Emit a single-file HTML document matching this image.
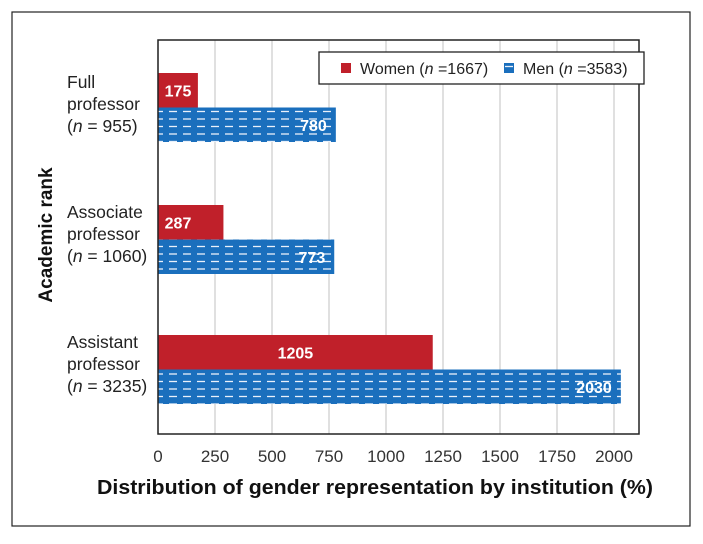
<!DOCTYPE html>
<html><head><meta charset="utf-8"><style>
body{margin:0;background:#fff;font-family:"Liberation Sans",sans-serif}
svg text{font-family:"Liberation Sans",sans-serif}
</style></head><body>
<svg width="703" height="539" xmlns="http://www.w3.org/2000/svg">
<defs>
<pattern id="dash" width="14" height="7.5" patternUnits="userSpaceOnUse" y="108">
<rect width="14" height="7.5" fill="#1a6fbd"/>
<line x1="1" y1="3.5" x2="9" y2="3.5" stroke="#e8f0fa" stroke-width="1.3"/>
</pattern>
</defs>
<rect x="12" y="12" width="678" height="514" fill="none" stroke="#222" stroke-width="1.2"/>
<g id="grid"></g>
<g id="bars"></g>
<rect x="158" y="40" width="481" height="394" fill="none" stroke="#222" stroke-width="1.5"/>
<g>
<rect x="319" y="52" width="325" height="32" fill="#fff" stroke="#222" stroke-width="1.3"/>
<rect x="341" y="63" width="10" height="10" fill="#c0202a"/>
<text x="360" y="74" font-size="16" fill="#222">Women (<tspan font-style="italic">n</tspan> =1667)</text>
<rect x="504" y="63" width="10" height="10" fill="url(#dash)"/>
<text x="523" y="74" font-size="16" fill="#222">Men (<tspan font-style="italic">n</tspan> =3583)</text>
</g>
<g id="xt"></g>
<text x="97" y="494" font-size="20" font-weight="bold" fill="#111" textLength="556" lengthAdjust="spacingAndGlyphs">Distribution of gender representation by institution (%)</text>
<text transform="translate(52,235) rotate(-90)" font-size="19" font-weight="bold" text-anchor="middle" fill="#111">Academic rank</text>
<g font-size="17.5" fill="#222">
<text x="67" y="88">Full</text>
<text x="67" y="110">professor</text>
<text x="67" y="132">(<tspan font-style="italic">n</tspan> = 955)</text>
<text x="67" y="218">Associate</text>
<text x="67" y="240">professor</text>
<text x="67" y="262">(<tspan font-style="italic">n</tspan> = 1060)</text>
<text x="67" y="348">Assistant</text>
<text x="67" y="370">professor</text>
<text x="67" y="392">(<tspan font-style="italic">n</tspan> = 3235)</text>
</g>
</svg>
<script>
const categories=["Full professor","Associate professor","Assistant professor"];
const women=[175,287,1205];
const men=[780,773,2030];
const ticks=[0,250,500,750,1000,1250,1500,1750,2000];
const NS="http://www.w3.org/2000/svg";
const x0=158,scale=57/250;
const xs=v=>x0+v*scale;
const groupTop=[73,205,335];
const bh=34.5;
function mk(t,a,p){const e=document.createElementNS(NS,t);for(const k in a)e.setAttribute(k,a[k]);p.appendChild(e);return e;}
const g=document.getElementById('grid'),xt=document.getElementById('xt'),b=document.getElementById('bars');
ticks.forEach(t=>{
 const l=mk('line',{x1:xs(t),x2:xs(t),y1:40,y2:434,stroke:'#ccc','stroke-width':1.2},g);
 
 
 const tx=mk('text',{x:xs(t),y:462,'font-size':17,'text-anchor':'middle',fill:'#333'},xt);
 tx.textContent=t;
 
 
});
categories.forEach((c,i)=>{
 const y=groupTop[i];
 const rw=mk('rect',{x:x0,y:y,width:xs(women[i])-x0,height:bh,fill:'#c0202a'},b);
 
 
 const rm=mk('rect',{x:x0,y:y+bh,width:xs(men[i])-x0,height:bh,fill:'url(#dash)'},b);
 
 
 const wx=(xs(women[i])-x0)>100?(x0+xs(women[i]))/2:x0+20;
 const tw=mk('text',{x:wx,y:y+bh/2+6,'font-size':16,'font-weight':'bold','text-anchor':'middle',fill:'#fff'},b);
 tw.textContent=women[i];
 
 
 const tm=mk('text',{x:xs(men[i])-9,y:y+bh*1.5+6,'font-size':16,'font-weight':'bold','text-anchor':'end',fill:'#fff'},b);
 tm.textContent=men[i];
 
 
});
</script>
</body></html>
